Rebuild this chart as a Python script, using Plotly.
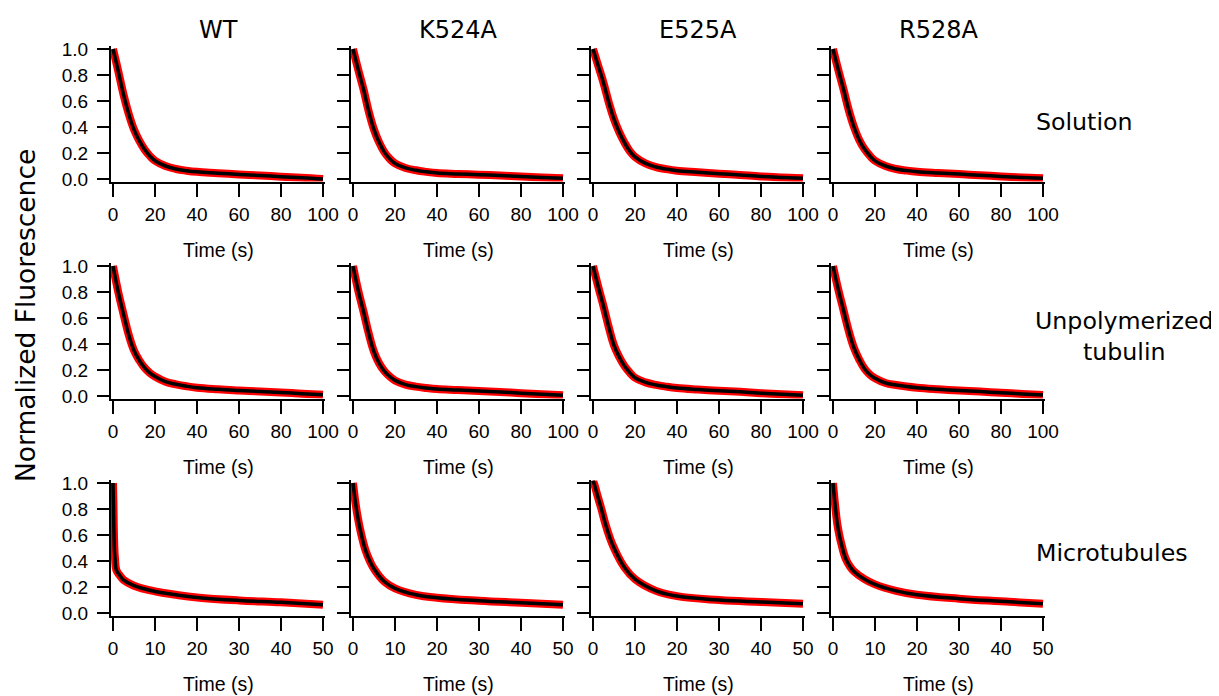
import plotly.graph_objects as go

W, H = 1219, 696
OFF = 8  # page body margin pushes the plot div by 8 px

mutants = ["WT", "K524A", "E525A", "R528A"]
conditions = ["Solution", "Unpolymerized<br>tubulin", "Microtubules"]

# time grid for solution / unpolymerized tubulin panels (s)
t_100 = [0, 2.5, 5, 7.5, 10, 12.5, 15, 17.5, 20, 25, 30, 35, 40, 50, 60, 70, 80, 90, 100]

sol_wt = [1.0, 0.83, 0.65, 0.50, 0.38, 0.295, 0.228, 0.178, 0.14, 0.10, 0.077, 0.064, 0.055, 0.045, 0.035, 0.027, 0.018, 0.010, 0.0]
sol_k524a = [1.0, 0.84, 0.69, 0.52, 0.38, 0.28, 0.205, 0.155, 0.12, 0.085, 0.067, 0.055, 0.046, 0.039, 0.033, 0.027, 0.020, 0.012, 0.005]
sol_e525a = [1.0, 0.87, 0.74, 0.59, 0.46, 0.36, 0.28, 0.215, 0.17, 0.12, 0.092, 0.076, 0.064, 0.052, 0.041, 0.031, 0.020, 0.012, 0.005]
sol_r528a = [1.0, 0.84, 0.69, 0.53, 0.40, 0.30, 0.23, 0.18, 0.14, 0.10, 0.077, 0.065, 0.056, 0.046, 0.038, 0.029, 0.020, 0.012, 0.005]

unp_wt = [1.0, 0.80, 0.63, 0.47, 0.35, 0.275, 0.218, 0.178, 0.15, 0.11, 0.090, 0.075, 0.064, 0.052, 0.043, 0.035, 0.027, 0.018, 0.010]
unp_k524a = [1.0, 0.81, 0.65, 0.48, 0.34, 0.25, 0.19, 0.15, 0.12, 0.088, 0.072, 0.062, 0.054, 0.046, 0.038, 0.031, 0.022, 0.013, 0.005]
unp_e525a = [1.0, 0.84, 0.69, 0.53, 0.39, 0.30, 0.23, 0.18, 0.14, 0.105, 0.085, 0.072, 0.062, 0.050, 0.040, 0.032, 0.022, 0.013, 0.005]
unp_r528a = [1.0, 0.82, 0.66, 0.50, 0.37, 0.28, 0.21, 0.165, 0.136, 0.10, 0.085, 0.073, 0.064, 0.052, 0.042, 0.034, 0.025, 0.016, 0.008]

# microtubule panels (s)
mt_wt_t = [0, 0.1, 0.2, 0.35, 0.5, 0.8, 1.6, 2.5, 5, 10, 15, 20, 30, 40, 50]
mt_wt = [1.0, 0.85, 0.65, 0.48, 0.41, 0.33, 0.29, 0.255, 0.21, 0.166, 0.14, 0.12, 0.097, 0.082, 0.064]
mt_k524a_t = [0, 1, 2, 3, 4, 5, 7.5, 10, 15, 20, 30, 40, 50]
mt_k524a = [1.0, 0.76, 0.60, 0.48, 0.40, 0.34, 0.24, 0.19, 0.14, 0.117, 0.094, 0.079, 0.064]
mt_e525a_t = [0, 0.5, 1, 2, 3, 4, 5, 7.5, 10, 15, 20, 30, 40, 50]
mt_e525a = [1.02, 0.97, 0.91, 0.80, 0.68, 0.58, 0.50, 0.35, 0.26, 0.17, 0.13, 0.10, 0.085, 0.072]
mt_r528a_t = [0, 0.5, 1, 1.5, 2, 3, 4, 5, 7.5, 10, 15, 20, 30, 40, 50]
mt_r528a = [1.0, 0.83, 0.69, 0.60, 0.53, 0.42, 0.36, 0.32, 0.26, 0.22, 0.17, 0.14, 0.11, 0.09, 0.072]

y_ticks = [0.0, 0.2, 0.4, 0.6, 0.8, 1.0]

panels = [
    [(t_100, sol_wt), (t_100, sol_k524a), (t_100, sol_e525a), (t_100, sol_r528a)],
    [(t_100, unp_wt), (t_100, unp_k524a), (t_100, unp_e525a), (t_100, unp_r528a)],
    [(mt_wt_t, mt_wt), (mt_k524a_t, mt_k524a), (mt_e525a_t, mt_e525a), (mt_r528a_t, mt_r528a)],
]
x_max = [100, 100, 50]

# pixel geometry of the grid (axis origin / span), screen coordinates
col_left = [113, 353, 593, 833]
row_top = [49, 266, 483]
pw, ph = 210, 130
padx, pady = 2.1, 2.6


def fx(px):
    return (px - OFF) / W


def fy(py):
    return 1 - (py - OFF) / H


TICK_FONT = dict(family="Liberation Sans, Arial", size=19, color="black")
XTITLE_FONT = dict(family="Liberation Sans, Arial", size=19.5, color="black")
LABEL_FONT = dict(family="DejaVu Sans, Verdana", size=23.7, color="black")

fig = go.Figure()
layout = {}
annotations = []

for r in range(3):
    for c in range(4):
        idx = r * 4 + c + 1
        sfx = "" if idx == 1 else str(idx)
        t, y = panels[r][c]
        xm = x_max[r]
        xpad = xm * padx / pw

        for color, width in (("#ff0000", 8), ("black", 3.5)):
            fig.add_trace(go.Scatter(
                x=t, y=y, mode="lines",
                line=dict(color=color, width=width, shape="spline", smoothing=1.2),
                xaxis="x" + sfx, yaxis="y" + sfx,
                showlegend=False, hoverinfo="skip"
            ))

        left = col_left[c]
        top = row_top[r]
        layout["xaxis" + sfx] = dict(
            domain=[fx(left - padx), fx(left + pw + padx)],
            range=[-xpad, xm + xpad],
            tickvals=list(range(0, xm + 1, xm // 5)),
            anchor="y" + sfx, automargin=False,
            showline=True, linecolor="black", linewidth=2,
            ticks="outside", ticklen=13, tickwidth=2, tickcolor="black",
            ticklabelstandoff=2,
            tickfont=TICK_FONT, showgrid=False, zeroline=False,
        )
        layout["yaxis" + sfx] = dict(
            domain=[fy(top + ph + pady), fy(top - pady)],
            range=[-0.02, 1.02],
            tickvals=y_ticks,
            ticktext=[f"{v:.1f}" for v in y_ticks],
            showticklabels=(c == 0),
            anchor="x" + sfx, automargin=False,
            showline=True, linecolor="black", linewidth=2,
            ticks="outside", ticklen=12, tickwidth=2, tickcolor="black",
            ticklabelstandoff=5,
            tickfont=TICK_FONT, showgrid=False, zeroline=False,
        )

        # x-axis title under every panel
        annotations.append(dict(
            text="Time (s)", xref="paper", yref="paper",
            x=fx(left + pw / 2), y=fy(top + ph + 71),
            xanchor="center", yanchor="middle", showarrow=False,
            font=XTITLE_FONT
        ))

# column titles
for c, name in enumerate(mutants):
    annotations.append(dict(
        text=name, xref="paper", yref="paper",
        x=fx(col_left[c] + pw / 2), y=fy(30),
        xanchor="center", yanchor="middle", showarrow=False,
        font=dict(family="DejaVu Sans, Verdana", size=24, color="black")
    ))

# row labels
row_label_pos = [(1034, 122, "left"), (1124, 337, "center"), (1034, 553, "left")]
for (px, py, anchor), name in zip(row_label_pos, conditions):
    annotations.append(dict(
        text=name, xref="paper", yref="paper",
        x=fx(px), y=fy(py), xanchor=anchor, yanchor="middle",
        align="center", showarrow=False, font=LABEL_FONT
    ))

annotations.append(dict(
    text="Normalized Fluorescence", xref="paper", yref="paper",
    x=fx(25), y=fy(316), textangle=-90,
    xanchor="center", yanchor="middle", showarrow=False,
    font=dict(family="DejaVu Sans, Verdana", size=26.5, color="black")
))

fig.update_layout(
    **layout,
    annotations=annotations,
    width=W, height=H,
    margin=dict(l=0, r=0, t=0, b=0),
    paper_bgcolor="white", plot_bgcolor="white",
    showlegend=False,
)

fig.write_html("out.html")
